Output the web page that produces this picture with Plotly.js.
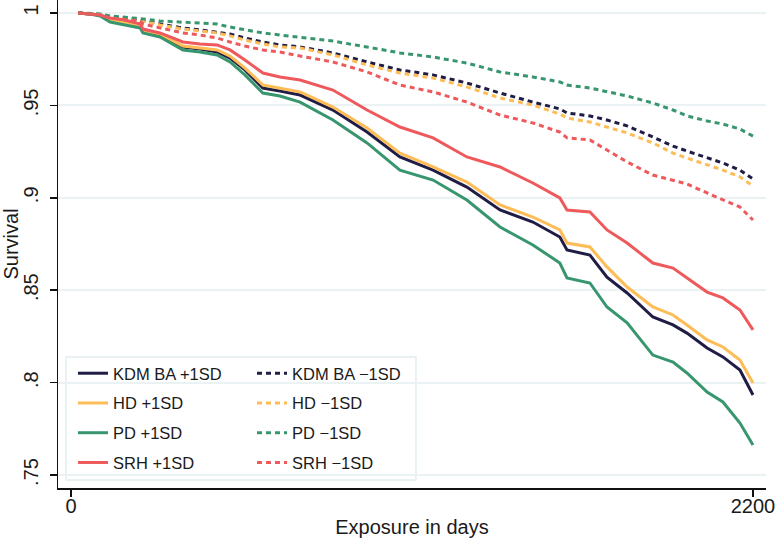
<!DOCTYPE html>
<html>
<head>
<meta charset="utf-8">
<script src="https://cdn.plot.ly/plotly-3.0.1.min.js"></script>
<style>html,body{margin:0;padding:0;background:#fff;}#chart{width:776px;height:542px;}</style>
</head>
<body>
<div id="chart"></div>
<script>
// Exposure in days (common evaluation times)
const days = [23,61,94,126,174,223,232,287,361,416,471,513,561,619,674,739,845,955,1061,1168,1277,1384,1490,1577,1600,1674,1729,1794,1877,1942,1987,2052,2103,2158,2200];

// +1SD series
const kdmPlus = [1.0000,0.9995,0.9989,0.9962,0.9946,0.9930,0.9903,0.9881,0.9816,0.9805,0.9789,0.9756,0.9692,0.9594,0.9578,0.9556,0.9475,0.9356,0.9221,0.9150,0.9058,0.8934,0.8869,0.8788,0.8718,0.8690,0.8571,0.8485,0.8355,0.8312,0.8268,0.8187,0.8139,0.8068,0.7933];
const hdPlus  = [1.0000,0.9995,0.9989,0.9962,0.9946,0.9930,0.9903,0.9886,0.9821,0.9811,0.9800,0.9767,0.9702,0.9610,0.9594,0.9573,0.9491,0.9378,0.9242,0.9167,0.9085,0.8961,0.8896,0.8826,0.8755,0.8734,0.8626,0.8517,0.8409,0.8366,0.8312,0.8231,0.8193,0.8122,0.7998];
const pdPlus  = [1.0000,0.9995,0.9984,0.9951,0.9935,0.9919,0.9892,0.9870,0.9800,0.9789,0.9773,0.9735,0.9665,0.9567,0.9551,0.9518,0.9421,0.9297,0.9150,0.9096,0.8988,0.8842,0.8745,0.8647,0.8566,0.8539,0.8409,0.8323,0.8149,0.8111,0.8052,0.7949,0.7895,0.7781,0.7662];
const srhPlus = [1.0000,0.9995,0.9989,0.9973,0.9962,0.9940,0.9913,0.9892,0.9843,0.9832,0.9827,0.9800,0.9746,0.9675,0.9654,0.9637,0.9583,0.9475,0.9383,0.9324,0.9221,0.9167,0.9080,0.8999,0.8934,0.8923,0.8826,0.8755,0.8647,0.8620,0.8566,0.8490,0.8458,0.8393,0.8285];

// -1SD series
const kdmMinus = [1.0000,0.9995,0.9992,0.9978,0.9973,0.9962,0.9957,0.9940,0.9919,0.9908,0.9897,0.9886,0.9865,0.9843,0.9827,0.9816,0.9784,0.9735,0.9692,0.9665,0.9621,0.9567,0.9518,0.9481,0.9459,0.9443,0.9421,0.9389,0.9329,0.9280,0.9253,0.9215,0.9188,0.9150,0.9102];
const hdMinus  = [1.0000,0.9995,0.9992,0.9978,0.9973,0.9962,0.9957,0.9935,0.9913,0.9903,0.9892,0.9876,0.9854,0.9832,0.9816,0.9811,0.9773,0.9719,0.9675,0.9648,0.9600,0.9540,0.9502,0.9453,0.9432,0.9410,0.9383,0.9351,0.9297,0.9242,0.9215,0.9177,0.9150,0.9113,0.9064];
const pdMinus  = [1.0000,0.9997,0.9995,0.9984,0.9978,0.9973,0.9968,0.9957,0.9951,0.9946,0.9940,0.9924,0.9908,0.9892,0.9881,0.9870,0.9848,0.9816,0.9784,0.9762,0.9729,0.9681,0.9654,0.9627,0.9610,0.9594,0.9573,0.9551,0.9513,0.9475,0.9443,0.9416,0.9399,0.9372,0.9334];
const srhMinus = [1.0000,0.9995,0.9989,0.9968,0.9962,0.9957,0.9940,0.9919,0.9892,0.9881,0.9865,0.9843,0.9821,0.9800,0.9789,0.9767,0.9735,0.9681,0.9610,0.9573,0.9518,0.9448,0.9405,0.9356,0.9324,0.9313,0.9259,0.9194,0.9123,0.9096,0.9075,0.9026,0.8988,0.8950,0.8880];

const yTickVals = [0.75,0.8,0.85,0.9,0.95,1];
const yTickText = ['.75','.8','.85','.9','.95','1'];
const xTickVals = [0,2200];
const xTickText = ['0','2200'];

const colors = {kdm:'#1f1c45', hd:'#fdbc55', pd:'#38966f', srh:'#ee5a5c'};

function tr(y, name, color, dashed, leg, grp){
  return {
    x: days, y: y, type:'scatter', mode:'lines', name: name,
    legend: leg, legendgroup: grp,
    line: {color: color, width: 3, dash: dashed ? '5px,4px' : 'solid'},
    hoverinfo:'skip'
  };
}

const data = [
  tr(kdmMinus,'KDM BA \u22121SD',colors.kdm,true,'legend2','g5'),
  tr(hdMinus,'HD \u22121SD',colors.hd,true,'legend2','g6'),
  tr(pdMinus,'PD \u22121SD',colors.pd,true,'legend2','g7'),
  tr(srhMinus,'SRH \u22121SD',colors.srh,true,'legend2','g8'),
  tr(kdmPlus,'KDM BA +1SD',colors.kdm,false,'legend','g1'),
  tr(hdPlus,'HD +1SD',colors.hd,false,'legend','g2'),
  tr(pdPlus,'PD +1SD',colors.pd,false,'legend','g3'),
  tr(srhPlus,'SRH +1SD',colors.srh,false,'legend','g4')
];

const font = 'Liberation Sans, Arial, Helvetica, sans-serif';
const legBase = {
  orientation:'v', xanchor:'left', yanchor:'top',
  bgcolor:'rgba(0,0,0,0)', borderwidth:0,
  font:{family:font, size:16.5, color:'#1a1a1a'},
  tracegroupgap:5.3, traceorder:'grouped'
};

const layout = {
  width:776, height:542,
  margin:{l:58, r:10, t:0, b:54},
  paper_bgcolor:'#fff', plot_bgcolor:'#fff',
  font:{family:font, color:'#1a1a1a'},
  showlegend:true,
  xaxis:{
    range:[-42,2242], tickvals:xTickVals, ticktext:xTickText,
    showgrid:false, zeroline:false, showline:true, linecolor:'#111', linewidth:1.5,
    ticks:'outside', ticklen:7, tickwidth:1.5, tickcolor:'#111',
    ticklabelstandoff:-8,
    tickfont:{family:font, size:20, color:'#1a1a1a'},
    title:{text:'Exposure in days', font:{family:font, size:20, color:'#1a1a1a'}, standoff:4}
  },
  yaxis:{
    range:[0.74297,1.00703], tickvals:yTickVals, ticktext:yTickText, tickangle:-90,
    showgrid:true, gridcolor:'#ebf2f4', gridwidth:2, zeroline:false,
    showline:true, linecolor:'#111', linewidth:1.5,
    ticks:'outside', ticklen:7, tickwidth:1.5, tickcolor:'#111',
    ticklabelstandoff:4,
    tickfont:{family:font, size:20, color:'#1a1a1a'},
    title:{text:'Survival', font:{family:font, size:20, color:'#1a1a1a'}, standoff:2}
  },
  legend: Object.assign({}, legBase, {x:0.0212, y:0.2705}),
  legend2: Object.assign({}, legBase, {x:0.274, y:0.2705}),
  shapes:[{
    type:'rect', xref:'paper', yref:'paper', layer:'below',
    x0:0.0113, x1:0.5056, y0:0.0164, y1:0.2684,
    line:{color:'#e4edf0', width:1.5}, fillcolor:'#fff'
  }]
};

Plotly.newPlot('chart', data, layout, {displayModeBar:false, staticPlot:true});
</script>
</body>
</html>
